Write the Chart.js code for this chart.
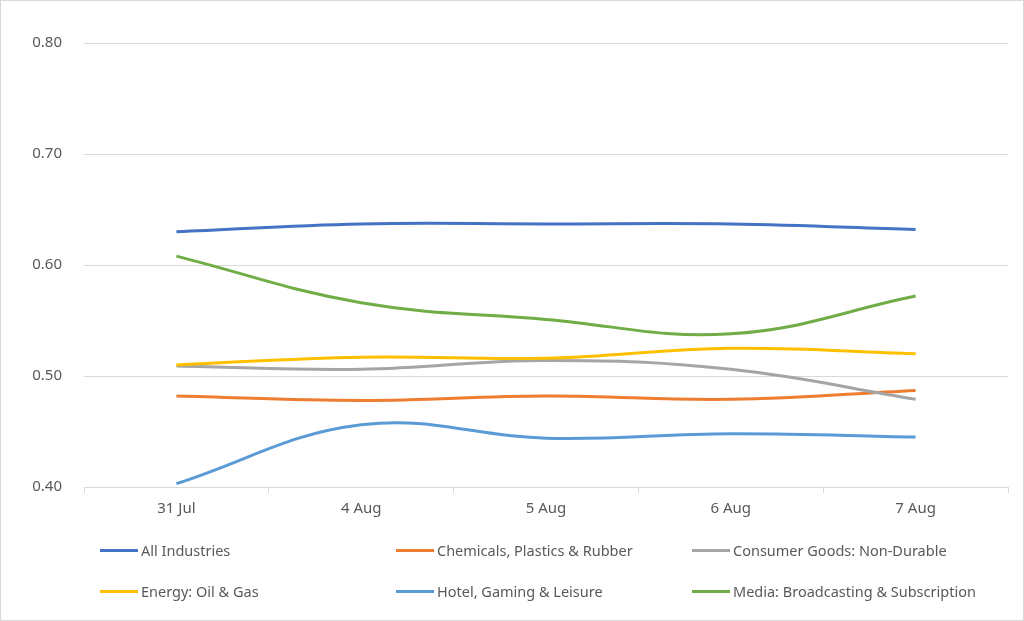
<!DOCTYPE html>
<html>
<head>
<meta charset="utf-8">
<script src="https://cdn.jsdelivr.net/npm/chart.js@4.4.0/dist/chart.umd.min.js"></script>
<style>
  html, body { margin: 0; padding: 0; background: #fff; }
  #wrap { position: relative; width: 1024px; height: 621px; font-family: "Noto Sans", sans-serif; }
  #frame { position: absolute; left: 0; top: 0; width: 1024px; height: 621px; box-sizing: border-box; border: 1px solid #d9d9d9; pointer-events: none; }
  #legend { position: absolute; left: 0; top: 0; width: 1024px; height: 621px; pointer-events: none; }
  .item { position: absolute; display: flex; align-items: center; font-size: 14.5px; color: #595959; white-space: nowrap; transform: translateY(-50%); }
  .swatch { width: 38px; height: 3px; margin-right: 3px; }
</style>
</head>
<body>
<div id="wrap">
  <canvas id="lineChart" width="1024" height="621"></canvas>
  <div id="legend"></div>
  <div id="frame"></div>
</div>
<script>
// dados
const dias = ['31 Jul', '4 Aug', '5 Aug', '6 Aug', '7 Aug'];
const series = ['All Industries', 'Chemicals, Plastics & Rubber', 'Consumer Goods: Non-Durable',
                'Energy: Oil & Gas', 'Hotel, Gaming & Leisure', 'Media: Broadcasting & Subscription'];
const allIndustries = [0.630, 0.637, 0.637, 0.637, 0.632];
const chemicals     = [0.482, 0.478, 0.482, 0.479, 0.487];
const consumerGoods = [0.509, 0.506, 0.514, 0.506, 0.479];
const energy        = [0.510, 0.517, 0.516, 0.525, 0.520];
const hotel         = [0.403, 0.456, 0.444, 0.448, 0.445];
const media         = [0.608, 0.566, 0.551, 0.538, 0.572];
const yTicks = [0.40, 0.50, 0.60, 0.70, 0.80];

const cores = ['#4472C4', '#ED7D31', '#A5A5A5', '#FFC000', '#5B9BD5', '#70AD47'];
const valores = [allIndustries, chemicals, consumerGoods, energy, hotel, media];

const datasets = series.map((nome, i) => ({
    label: nome,
    data: valores[i],
    borderColor: cores[i],
    backgroundColor: cores[i],
    borderWidth: 3,
    pointRadius: 0,
    tension: 0.4,
    fill: false,
    order: -i
}));

const ctx = document.getElementById('lineChart').getContext('2d');
const lineChart = new Chart(ctx, {
    type: 'line',
    data: { labels: dias, datasets: datasets },
    options: {
        responsive: false,
        animation: false,
        layout: { padding: { top: 43, right: 16, bottom: 94, left: 0 } },
        plugins: {
            legend: { display: false },
            tooltip: { enabled: false }
        },
        scales: {
            x: {
                offset: true,
                afterFit: function(scale) { scale.height = 40; },
                grid: { offset: true, drawOnChartArea: false, drawTicks: true, tickLength: 6, color: '#d9d9d9' },
                border: { color: '#d9d9d9', width: 1 },
                ticks: { color: '#595959', font: { family: 'Noto Sans', size: 15 }, padding: 7, maxRotation: 0 }
            },
            y: {
                min: yTicks[0],
                max: yTicks[yTicks.length - 1],
                afterFit: function(scale) { scale.width = 84; },
                afterBuildTicks: function(scale) { scale.ticks = yTicks.map(v => ({ value: v })); },
                grid: { color: '#d9d9d9', drawTicks: false },
                border: { display: false },
                ticks: {
                    color: '#595959',
                    font: { family: 'Noto Sans', size: 15 },
                    padding: 22,
                    callback: function(value) { return Number(value).toFixed(2); }
                }
            }
        }
    }
});

// legenda em grade, como no Excel
const legendEl = document.getElementById('legend');
const colX = [100, 396, 692];
const rowY = [550, 591];
series.forEach((nome, i) => {
    const item = document.createElement('div');
    item.className = 'item';
    item.style.left = colX[i % 3] + 'px';
    item.style.top = rowY[Math.floor(i / 3)] + 'px';
    const sw = document.createElement('span');
    sw.className = 'swatch';
    sw.style.background = cores[i];
    const txt = document.createElement('span');
    txt.textContent = nome;
    item.appendChild(sw);
    item.appendChild(txt);
    legendEl.appendChild(item);
});
</script>
</body>
</html>
